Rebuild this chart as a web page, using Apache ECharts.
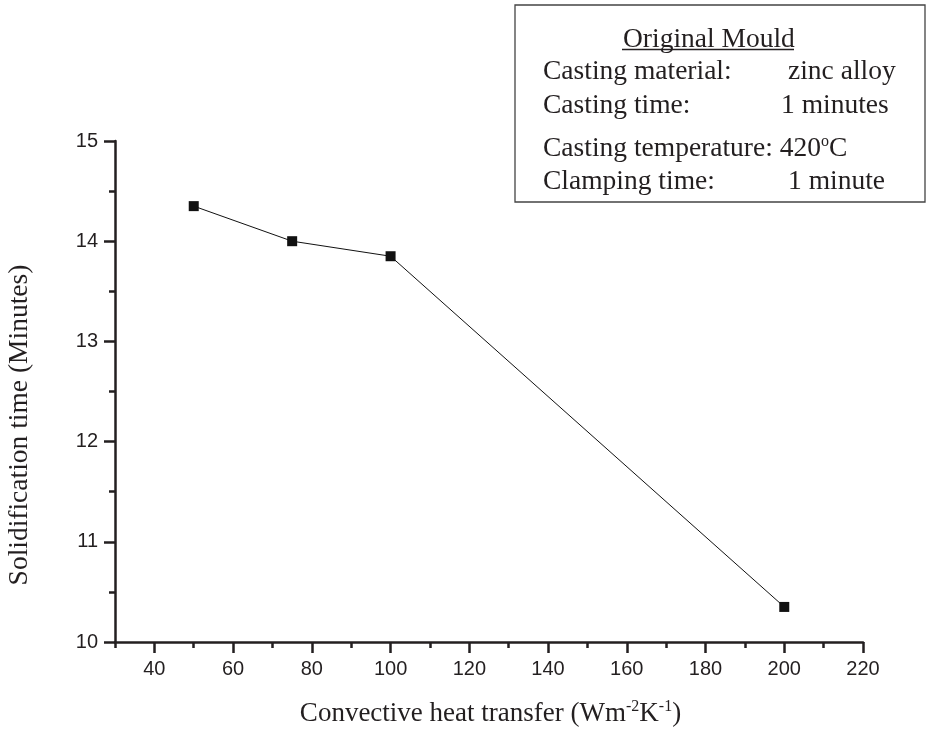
<!DOCTYPE html>
<html>
<head>
<meta charset="utf-8">
<script src="https://cdn.jsdelivr.net/npm/echarts@6/dist/echarts.min.js"></script>
<style>
html,body{margin:0;padding:0;background:#fff;}
#chart{width:930px;height:732px;}
</style>
</head>
<body>
<div id="chart"></div>
<script>
var heatTransfer = [50, 75, 100, 200];
var solidTime = [14.35, 14.0, 13.85, 10.35];
var xTicks = [40, 60, 80, 100, 120, 140, 160, 180, 200, 220];
var yTicks = [10, 11, 12, 13, 14, 15];

var chart = echarts.init(document.getElementById('chart'));
var serif = '"Liberation Serif","Times New Roman",serif';
var sans = '"Liberation Sans",Arial,sans-serif';
var ink = '#231f20';
var pts = heatTransfer.map(function(x, i){ return [x, solidTime[i]]; });
var FS = 27.5;

chart.setOption({
  animation: false,
  backgroundColor: '#fff',
  grid: {left: 115, right: 67, top: 141, bottom: 90},
  xAxis: [{
    type: 'value', min: 30, max: 220, interval: 10,
    axisLine: {show: true, onZero: false, lineStyle: {color: ink, width: 2.5}},
    axisTick: {show: true, length: 11, customValues: xTicks, lineStyle: {color: ink, width: 2.5}},
    axisLabel: {color: ink, fontFamily: sans, fontSize: 20, margin: 17, customValues: xTicks},
    splitLine: {show: false}
  }, {
    type: 'value', min: 30, max: 220, interval: 10, position: 'bottom', offset: 0,
    axisLine: {show: false},
    axisTick: {show: true, length: 6, lineStyle: {color: ink, width: 2.5}},
    axisLabel: {show: false},
    splitLine: {show: false}
  }],
  yAxis: [{
    type: 'value', min: 10, max: 15, interval: 1,
    axisLine: {show: true, onZero: false, lineStyle: {color: ink, width: 2.5}},
    axisTick: {show: true, length: 11, lineStyle: {color: ink, width: 2.5}},
    axisLabel: {color: ink, fontFamily: sans, fontSize: 20, margin: 17, customValues: yTicks},
    splitLine: {show: false}
  }, {
    type: 'value', min: 10, max: 15, interval: 0.5, position: 'left', offset: 0,
    axisLine: {show: false},
    axisTick: {show: true, length: 6, lineStyle: {color: ink, width: 2.5}},
    axisLabel: {show: false},
    splitLine: {show: false}
  }],
  series: [{
    type: 'line',
    xAxisIndex: 0, yAxisIndex: 0,
    data: pts,
    symbol: 'rect', symbolSize: 10,
    itemStyle: {color: '#111'},
    lineStyle: {color: '#111', width: 1}
  }],
  graphic: [
    {type: 'rect', shape: {x: 515, y: 5, width: 410, height: 197}, style: {fill: '#fff', stroke: '#444', lineWidth: 1.3}, z: 10},
    {type: 'text', x: 623, y: 39.5, z: 11, style: {text: 'Original Mould', font: FS + 'px ' + serif, fill: ink, verticalAlign: 'middle'}},
    {type: 'line', shape: {x1: 622, y1: 49.5, x2: 794, y2: 49.5}, style: {stroke: ink, lineWidth: 1.3}, z: 11},
    {type: 'text', x: 543, y: 71.5, z: 11, style: {text: 'Casting material:', font: FS + 'px ' + serif, fill: ink, verticalAlign: 'middle'}},
    {type: 'text', x: 788, y: 71.5, z: 11, style: {text: 'zinc alloy', font: FS + 'px ' + serif, fill: ink, verticalAlign: 'middle'}},
    {type: 'text', x: 543, y: 105.5, z: 11, style: {text: 'Casting time:', font: FS + 'px ' + serif, fill: ink, verticalAlign: 'middle'}},
    {type: 'text', x: 781, y: 105.5, z: 11, style: {text: '1 minutes', font: FS + 'px ' + serif, fill: ink, verticalAlign: 'middle'}},
    {type: 'text', x: 543, y: 148.5, z: 11, style: {
      text: 'Casting temperature: 420{s|o}C', font: FS + 'px ' + serif, fill: ink, verticalAlign: 'middle',
      rich: {s: {fontSize: 16, fontFamily: serif, fill: ink, padding: [0,0,14,0]}}
    }},
    {type: 'text', x: 543, y: 181.5, z: 11, style: {text: 'Clamping time:', font: FS + 'px ' + serif, fill: ink, verticalAlign: 'middle'}},
    {type: 'text', x: 788, y: 181.5, z: 11, style: {text: '1 minute', font: FS + 'px ' + serif, fill: ink, verticalAlign: 'middle'}},
    {type: 'text', x: 490.5, y: 713.5, z: 11, style: {
      text: 'Convective heat transfer (Wm{s|-2}K{s|-1})', font: '27px ' + serif, fill: ink,
      align: 'center', verticalAlign: 'middle',
      rich: {s: {fontSize: 16, fontFamily: serif, fill: ink, padding: [0,0,14,0]}}
    }},
    {type: 'text', x: 20, y: 425, rotation: Math.PI/2, z: 11, style: {
      text: 'Solidification time (Minutes)', font: '27.5px ' + serif, fill: ink,
      align: 'center', verticalAlign: 'middle'
    }}
  ]
});
</script>
</body>
</html>
